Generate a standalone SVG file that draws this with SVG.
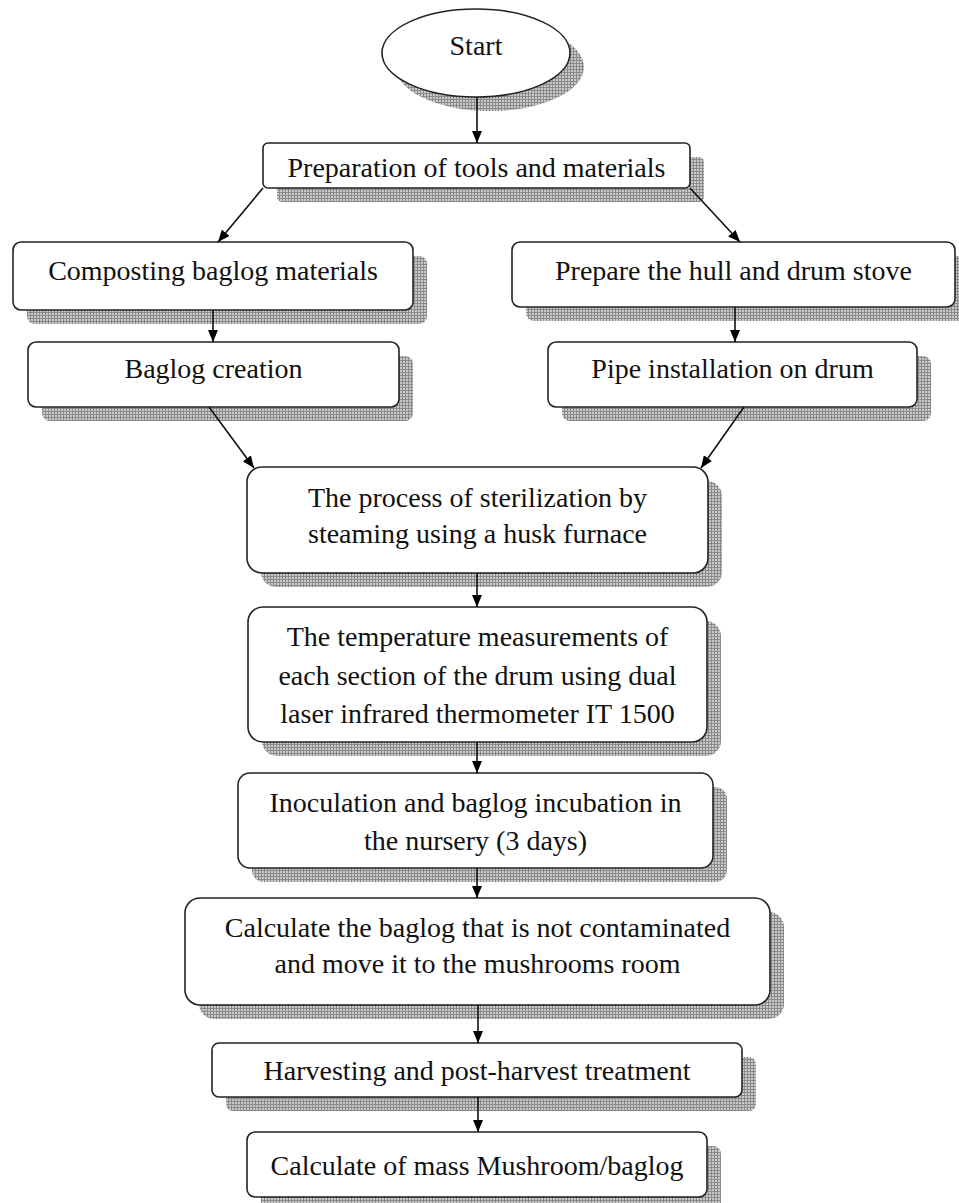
<svg xmlns="http://www.w3.org/2000/svg" width="959" height="1203" viewBox="0 0 959 1203">
<defs>
<pattern id="hatch" width="3" height="3" patternUnits="userSpaceOnUse">
<rect width="3" height="3" fill="#c9c9c9"/>
<path d="M0,0.5H3M0.5,0V3" stroke="#8a8a8a" stroke-width="1"/>
</pattern>
<marker id="arr" markerUnits="userSpaceOnUse" markerWidth="12" markerHeight="10" refX="12" refY="5" orient="auto">
<path d="M0,0 L12,5 L0,10 z" fill="#000"/>
</marker>
</defs>
<style>
.sh{fill:url(#hatch);stroke:none}
.bx{fill:#fff;stroke:#222;stroke-width:1.6}
.t{font-family:"Liberation Serif","Times New Roman",serif;font-size:28px;fill:#111;text-anchor:middle}
.c{stroke:#111;stroke-width:1.6;fill:none;marker-end:url(#arr)}
</style>
<rect width="959" height="1203" fill="#fff"/>

<g id="start">
<ellipse class="sh" cx="490" cy="67" rx="94" ry="44"/>
<ellipse class="bx" cx="476" cy="53" rx="94" ry="44"/>
<text class="t" x="476" y="55">Start</text>
</g>

<g id="prep">
<rect class="sh" x="277" y="157" width="427" height="45" rx="5"/>
<rect class="bx" x="263" y="143" width="427" height="45" rx="5"/>
<text class="t" x="476.5" y="177">Preparation of tools and materials</text>
</g>

<g id="compost">
<rect class="sh" x="27" y="256" width="400" height="68" rx="8"/>
<rect class="bx" x="13" y="242" width="400" height="68" rx="8"/>
<text class="t" x="213" y="280">Composting baglog materials</text>
</g>

<g id="hull">
<rect class="sh" x="526" y="256" width="443" height="65" rx="8"/>
<rect class="bx" x="512" y="242" width="443" height="65" rx="8"/>
<text class="t" x="733.5" y="280">Prepare the hull and drum stove</text>
</g>

<g id="baglog">
<rect class="sh" x="42" y="356" width="371" height="65" rx="8"/>
<rect class="bx" x="28" y="342" width="371" height="65" rx="8"/>
<text class="t" x="213.5" y="378">Baglog creation</text>
</g>

<g id="pipe">
<rect class="sh" x="562" y="356" width="369" height="65" rx="8"/>
<rect class="bx" x="548" y="342" width="369" height="65" rx="8"/>
<text class="t" x="732.5" y="378">Pipe installation on drum</text>
</g>

<g id="steril">
<rect class="sh" x="261" y="481" width="461" height="106" rx="15"/>
<rect class="bx" x="247" y="467" width="461" height="106" rx="15"/>
<text class="t" x="477.5" y="507">The process of sterilization by</text>
<text class="t" x="477.5" y="543">steaming using a husk furnace</text>
</g>

<g id="temp">
<rect class="sh" x="262" y="621" width="459" height="135" rx="15"/>
<rect class="bx" x="248" y="607" width="459" height="135" rx="15"/>
<text class="t" x="477.5" y="646">The temperature measurements of</text>
<text class="t" x="477.5" y="685">each section of the drum using dual</text>
<text class="t" x="477.5" y="723">laser infrared thermometer IT 1500</text>
</g>

<g id="inoc">
<rect class="sh" x="252" y="787" width="475" height="95" rx="12"/>
<rect class="bx" x="238" y="773" width="475" height="95" rx="12"/>
<text class="t" x="475.5" y="812">Inoculation and baglog incubation in</text>
<text class="t" x="475.5" y="850">the nursery (3 days)</text>
</g>

<g id="calc">
<rect class="sh" x="199" y="912" width="585" height="107" rx="15"/>
<rect class="bx" x="185" y="898" width="585" height="107" rx="15"/>
<text class="t" x="477.5" y="937">Calculate the baglog that is not contaminated</text>
<text class="t" x="477.5" y="973">and move it to the mushrooms room</text>
</g>

<g id="harvest">
<rect class="sh" x="226" y="1057" width="530" height="54" rx="7"/>
<rect class="bx" x="212" y="1043" width="530" height="54" rx="7"/>
<text class="t" x="477" y="1080">Harvesting and post-harvest treatment</text>
</g>

<g id="mass">
<rect class="sh" x="261" y="1146" width="460" height="65" rx="8"/>
<rect class="bx" x="247" y="1132" width="460" height="65" rx="8"/>
<text class="t" x="477" y="1175">Calculate of mass Mushroom/baglog</text>
</g>

<g id="connectors">
<line class="c" x1="477" y1="97" x2="477" y2="143"/>
<line class="c" x1="263" y1="188" x2="218" y2="242"/>
<line class="c" x1="690" y1="188" x2="740" y2="242"/>
<line class="c" x1="213" y1="310" x2="213" y2="342"/>
<line class="c" x1="735" y1="307" x2="735" y2="342"/>
<line class="c" x1="209" y1="407" x2="254" y2="468"/>
<line class="c" x1="744" y1="407" x2="701" y2="468"/>
<line class="c" x1="477" y1="573" x2="477" y2="607"/>
<line class="c" x1="477" y1="742" x2="477" y2="773"/>
<line class="c" x1="477" y1="868" x2="477" y2="898"/>
<line class="c" x1="478" y1="1005" x2="478" y2="1043"/>
<line class="c" x1="478" y1="1097" x2="478" y2="1132"/>
</g>
</svg>
